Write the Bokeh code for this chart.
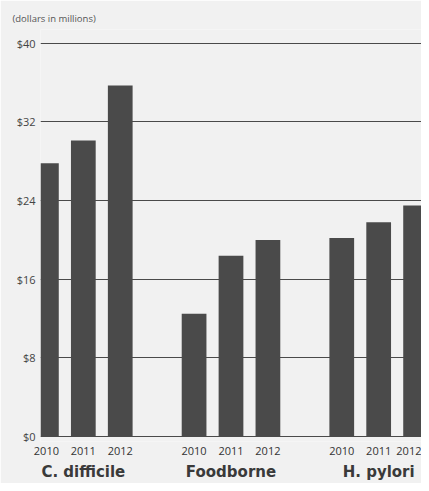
from bokeh.plotting import figure
from bokeh.models import FactorRange, ColumnDataSource, FixedTicker, Range1d
from bokeh.embed import file_html
from bokeh.resources import INLINE

categories = ["C. difficile", "Foodborne", "H. pylori"]
years = ["2010", "2011", "2012"]
values_c_difficile = [27.8, 30.1, 35.7]
values_foodborne = [12.5, 18.4, 20.0]
values_h_pylori = [20.2, 21.8, 23.5]
y_ticks = [0, 8, 16, 24, 32, 40]
y_tick_labels = ["$0", "$8", "$16", "$24", "$32", "$40"]
unit_label = "(dollars in millions)"

series = [values_c_difficile, values_foodborne, values_h_pylori]
factors = [(c, y) for c in categories for y in years]
vals = [v for s in series for v in s]
src = ColumnDataSource(dict(x=factors, top=vals))

BG = "#f1f1f1"
xr = FactorRange(*factors, factor_padding=0.0, group_padding=1.0,
                 range_padding=-0.34, range_padding_units="absolute")
p = figure(width=421, height=483, x_range=xr, y_range=Range1d(-0.5, 41.4),
           output_backend="svg", toolbar_location=None,
           min_border_left=40, min_border_right=0, min_border_top=29,
           min_border_bottom=10, title=unit_label)
p.background_fill_color = BG
p.border_fill_color = BG
p.outline_line_color = None

p.title.text_font = "Open Sans"
p.title.text_font_size = "9.5px"
p.title.text_font_style = "normal"
p.title.text_color = "#555555"
p.title.offset = -28
p.title.standoff = 9

p.vbar(x="x", top="top", bottom=0, width=0.67, source=src, color="#4a4a4a", line_color=None)

p.yaxis.ticker = FixedTicker(ticks=y_ticks)
p.yaxis.major_label_overrides = {t: l for t, l in zip(y_ticks, y_tick_labels)}
p.yaxis.axis_line_color = None
p.yaxis.major_tick_line_color = None
p.yaxis.minor_tick_line_color = None
p.yaxis.major_tick_out = 0
p.yaxis.major_tick_in = 0
p.yaxis.minor_tick_out = 0
p.yaxis.major_label_standoff = 5
p.yaxis.major_label_text_font = "Open Sans"
p.yaxis.major_label_text_font_size = "11px"
p.yaxis.major_label_text_color = "#444444"

p.ygrid.grid_line_color = "#4a4a4a"
p.ygrid.grid_line_width = 1
p.xgrid.grid_line_color = None

p.xaxis.axis_line_color = None
p.xaxis.major_tick_line_color = None
p.xaxis.minor_tick_line_color = None
p.xaxis.major_tick_out = 0
p.xaxis.major_tick_in = 0
p.xaxis.major_label_text_font = "Open Sans"
p.xaxis.major_label_text_font_size = "11px"
p.xaxis.major_label_text_color = "#333333"
p.xaxis.major_label_standoff = 5
p.xaxis.group_text_font = "DejaVu Sans"
p.xaxis.group_text_font_size = "15px"
p.xaxis.group_text_font_style = "bold"
p.xaxis.group_text_color = "#3a3a3a"
p.xaxis.separator_line_alpha = 0

open("out.html", "w").write(file_html(p, INLINE))
